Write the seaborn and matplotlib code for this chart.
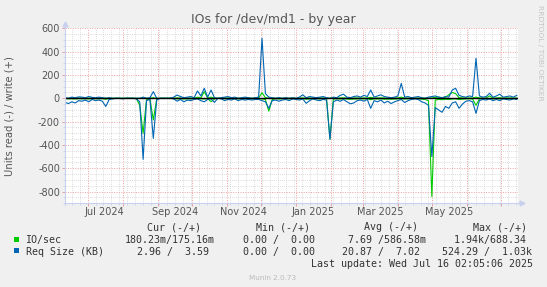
import numpy as np
import pandas as pd
import matplotlib
matplotlib.use("Agg")
import matplotlib.pyplot as plt
import matplotlib.dates as mdates
from matplotlib.ticker import MultipleLocator, FixedLocator
from matplotlib.patches import Rectangle
from matplotlib.lines import Line2D
import seaborn as sns

# ---------------- data ----------------
dates = pd.date_range("2024-06-11", periods=134, freq="3D")

req_read = [-35, -45, -30, -40, -20, -25, -15, -30, -10, -20, -15, -25, -70, -10, -5, 0, 0, -5, 0, 0,
            0, -5, -30, -523, -20, -10, -343, -15, 0, 0, 0, 0, -5, -25, -10, -30, -15, -20, -10, -5,
            -20, -30, -10, -5, -35, 0, -5, -20, -10, -15, -5, -20, -10, -15, -10, -15, -10, -10, -20, -30,
            -86, -20, -15, -25, -15, -10, -20, -5, -10, -15, -5, -43, -20, -5, -15, -20, -10, -15, -351, -30,
            -15, -25, -10, -30, -47, -40, -20, -15, -25, -10, -86, -20, -30, -15, -40, -25, -45, -30, -20, -10,
            -36, -20, -10, -5, -10, -30, -40, -60, -500, -80, -100, -120, -70, -86, -40, -30, -86, -50, -25, -20,
            -30, -129, -20, -10, -15, -5, -20, -10, -20, -5, -10, -15, -5, -10]
req_write = [5, 0, 10, 5, 12, 10, 5, 15, 8, 5, 10, 5, 0, 5, 0, 0, 0, 0, 0, 0,
             0, 0, 0, 10, 0, 5, 57, 0, 0, 0, 0, 0, 10, 28, 15, 5, 10, 15, 5, 63,
             20, 86, 10, 71, 5, 0, 5, 10, 15, 5, 10, 0, 5, 10, 5, 0, 5, 10, 514, 40,
             10, 5, 0, 5, 0, 5, 0, 5, 0, 10, 30, 5, 15, 10, 5, 10, 15, 5, 0, 10,
             5, 25, 35, 10, 5, 15, 20, 10, 25, 15, 71, 10, 20, 30, 15, 10, 5, 10, 20, 128,
             10, 15, 5, 10, 15, 5, 0, 10, 15, 20, 10, 5, 15, 10, 71, 86, 25, 15, 10, 20,
             15, 343, 20, 10, 15, 43, 10, 20, 35, 10, 15, 20, 10, 25]
io_read = [-3, -5, -4, -6, -3, -5, -4, -6, -3, -4, -5, -3, -8, -2, -1, 0, 0, -1, 0, 0,
           0, -2, -60, -300, -10, -5, -186, -5, 0, 0, 0, 0, -2, -5, -3, -6, -4, -5, -3, -2,
           -4, -6, -3, -29, -5, 0, -2, -4, -3, -4, -2, -5, -3, -4, -3, -4, -3, -3, -5, -10,
           -110, -10, -4, -6, -4, -3, -5, -2, -3, -4, -2, -8, -5, -2, -4, -5, -3, -4, -350, -6,
           -4, -6, -3, -6, -8, -7, -5, -4, -6, -3, -12, -5, -6, -4, -8, -6, -8, -6, -5, -3,
           -6, -5, -3, -2, -3, -8, -10, -20, -843, -15, -10, -12, -8, -10, -6, -5, -10, -8, -5, -4,
           -6, -60, -5, -3, -4, -2, -5, -3, -5, -2, -3, -4, -2, -3]
io_write = [1, 0, 2, 1, 2, 2, 1, 2, 1, 1, 2, 1, 0, 1, 0, 0, 0, 0, 0, 0,
            0, 0, 0, 2, 0, 1, 5, 0, 0, 0, 0, 0, 1, 3, 2, 1, 2, 2, 1, 10,
            3, 57, 2, 10, 1, 0, 1, 2, 2, 1, 2, 0, 1, 2, 1, 0, 1, 2, 48, 5,
            2, 1, 0, 1, 0, 1, 0, 1, 0, 2, 3, 1, 2, 2, 1, 2, 2, 1, 0, 2,
            1, 3, 4, 2, 1, 2, 3, 2, 3, 2, 8, 2, 3, 4, 2, 2, 1, 2, 3, 10,
            2, 2, 1, 2, 2, 1, 0, 2, 3, 8, 10, 6, 8, 30, 50, 40, 5, 3, 2, 3,
            2, 10, 3, 2, 3, 20, 2, 3, 5, 2, 3, 3, 2, 3]

month_labels = ["Jul 2024", "Sep 2024", "Nov 2024", "Jan 2025", "Mar 2025", "May 2025"]
month_label_dates = ["2024-07-16", "2024-09-16", "2024-11-16", "2025-01-16", "2025-03-16", "2025-05-16"]
y_ticks = [-800, -600, -400, -200, 0, 200, 400, 600]

legend_names = ["IO/sec", "Req Size (KB)"]
legend_colors = ["#00CC00", "#0066B3"]
legend_cur = ["180.23m/175.16m", "  2.96 /  3.59 "]
legend_min = ["  0.00 /  0.00 ", "  0.00 /  0.00 "]
legend_avg = ["  7.69 /586.58m", " 20.87 /  7.02 "]
legend_max = ["  1.94k/688.34 ", "524.29 /  1.03k"]
headers = ["Cur (-/+)", "Min (-/+)", "Avg (-/+)", "Max (-/+)"]
last_update = "Last update: Wed Jul 16 02:05:06 2025"

# ---------------- figure ----------------
W, H = 547, 287
fig = plt.figure(figsize=(W / 100, H / 100), dpi=100, facecolor="#F0F0F0")
L, R, T, B = 65, 518, 28.3, 203.3
ax = fig.add_axes([L / W, 1 - B / H, (R - L) / W, (B - T) / H])
ax.set_facecolor("white")

def fx(px):
    return px / W

def fy(py):
    return 1 - py / H

df = pd.DataFrame({"date": dates, "io_read": io_read, "io_write": io_write,
                   "req_read": req_read, "req_write": req_write})

for col, c in [("io_read", "#00CC00"), ("io_write", "#00CC00"),
               ("req_read", "#0066B3"), ("req_write", "#0066B3")]:
    sns.lineplot(data=df, x="date", y=col, color=c, lw=0.8, ax=ax, zorder=3)

ax.axhline(0, color="black", lw=1.0, zorder=5)

ax.set_xlim(pd.Timestamp("2024-06-11"), pd.Timestamp("2025-07-16 02:05"))
ax.set_ylim(-900, 600)

ax.xaxis.set_major_locator(mdates.MonthLocator())
ax.xaxis.set_minor_locator(mdates.WeekdayLocator(byweekday=mdates.MO))
ax.yaxis.set_major_locator(FixedLocator(y_ticks))
ax.yaxis.set_minor_locator(MultipleLocator(50))

ax.grid(which="minor", color="#cfcfcf", linestyle=(0, (1, 1.5)), lw=0.6)
ax.grid(which="major", color="#f0a0a0", linestyle=(0, (1, 1.5)), lw=0.7)
ax.set_axisbelow(True)

for s in ax.spines.values():
    s.set_visible(False)

ax.tick_params(axis="both", which="major", length=2.2, width=0.7, color="#e8a0a0",
               labelsize=7, labelcolor="#555555", pad=1.4)
ax.tick_params(axis="both", which="minor", length=1.5, width=0.6, color="#c8d0f0")
ax.tick_params(axis="x", labelbottom=False)
ax.set_yticklabels([str(v) for v in y_ticks])
ax.set_xlabel("")
ax.set_ylabel("")

# month labels centred mid-month
trans = matplotlib.transforms.blended_transform_factory(ax.transData, ax.transAxes)
for lab, d in zip(month_labels, month_label_dates):
    ax.text(mdates.date2num(pd.Timestamp(d)), (B - 211.7) / (B - T), lab, transform=trans,
            ha="center", va="center", fontsize=7, color="#555555")

# axis lines with arrows
axc = "#c8d0f0"
fig.add_artist(Line2D([fx(L), fx(521)], [fy(B), fy(B)], color=axc, lw=0.8))
fig.add_artist(Line2D([fx(L), fx(L)], [fy(B + 2), fy(24)], color=axc, lw=0.8))
fig.add_artist(Line2D([fx(522)], [fy(B)], marker=">", ms=3.5, color=axc, mec=axc))
fig.add_artist(Line2D([fx(L)], [fy(23.5)], marker="^", ms=3.5, color=axc, mec=axc))

# texts
fig.text(0.5, fy(19), "IOs for /dev/md1 - by year", ha="center", va="center",
         fontsize=9, color="#555555")
fig.text(fx(10), fy((T + B) / 2), "Units read (-) / write (+)", rotation=90,
         ha="center", va="center", fontsize=7.2, color="#555555")
fig.text(fx(540), fy(5), "RRDTOOL / TOBI OETIKER", rotation=270, ha="center", va="top",
         fontsize=5.4, color="#c4c4c4")

mono = "DejaVu Sans Mono"
fs = 7.2
tc = "#333333"
hy = 227
for h, x in zip(headers, [147, 255.8, 364, 472.8]):
    fig.text(fx(x), fy(hy), h, ha="left", va="center", family=mono, fontsize=fs, color=tc)

row_y = [240.5, 252]
sq_y = [239.5, 250.2]
for i in range(2):
    fig.add_artist(Rectangle((fx(14), fy(sq_y[i] + 2.4)), 4.8 / W, 4.8 / H,
                             facecolor=legend_colors[i], edgecolor="none"))
    fig.text(fx(25.5), fy(row_y[i]), legend_names[i], ha="left", va="center",
             family=mono, fontsize=fs, color=tc)
    for s, x in zip([legend_cur[i], legend_min[i], legend_avg[i], legend_max[i]],
                    [125, 231.2, 336.5, 442.4]):
        fig.text(fx(x), fy(row_y[i]), s, ha="left", va="center", family=mono,
                 fontsize=fs, color=tc)

fig.text(fx(533), fy(264), last_update, ha="right", va="center", family=mono,
         fontsize=fs, color=tc)
fig.text(fx(273), fy(277.5), "Munin 2.0.73", ha="center", va="center",
         fontsize=5.2, color="#bbbbbb")

fig.savefig("out.png", dpi=100, facecolor=fig.get_facecolor())
